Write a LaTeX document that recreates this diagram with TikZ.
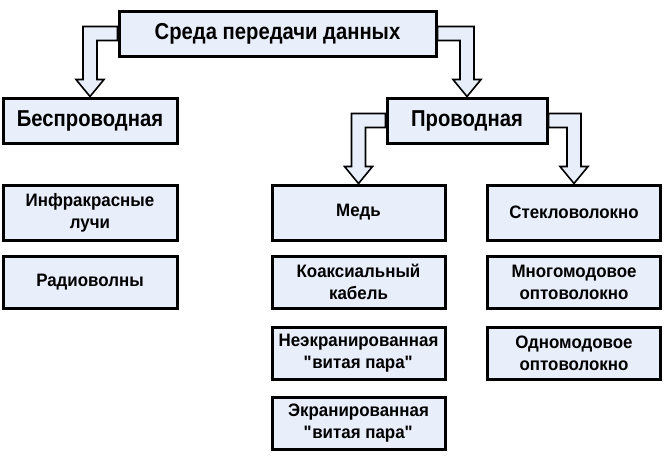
\documentclass[tikz,border=0pt]{standalone}
\usepackage{fontspec}
\setmainfont{Liberation Sans}
\newfontfamily\headfont[FakeStretch=0.88]{Liberation Sans}
\newfontfamily\itemfont[FakeStretch=0.94]{Liberation Sans}
\usetikzlibrary{calc}
\definecolor{boxfill}{RGB}{232,238,250}
\tikzset{
  headbox/.style={draw, line width=3pt, fill=boxfill, inner sep=0pt,
    font=\headfont\bfseries\fontsize{23}{26}\selectfont, minimum height=45pt},
  itembox/.style={draw, line width=3pt, fill=boxfill, inner sep=0pt, align=center,
    font=\itemfont\bfseries\fontsize{18}{22}\selectfont, minimum width=173pt, minimum height=52pt},
  blockarrow/.style={draw, line width=1.6pt, fill=boxfill, line join=miter}
}
% #1 source side, #2 target top, #3 = 1 (right) or -1 (left)
\newcommand{\bentarrow}[3]{%
  \draw[blockarrow] let \p1=(#1), \p2=(#2) in
    (\x1,\y1+7pt) -- ({\x2+#3*7pt},\y1+7pt) -- ({\x2+#3*7pt},\y2+17pt)
    -- ({\x2+#3*14pt},\y2+17pt) -- (\x2,\y2) -- ({\x2-#3*14pt},\y2+17pt)
    -- ({\x2-#3*7pt},\y2+17pt) -- ({\x2-#3*7pt},\y1-7pt) -- (\x1,\y1-7pt) -- cycle;}
\begin{document}
\begin{tikzpicture}[x=1pt, y=-1pt]
		\useasboundingbox (0,0) rectangle (668,458);
		% levels
		\node[headbox, minimum width=317pt] (media) at (277.5,33.5) {Среда передачи данных};
		\node[headbox, minimum width=174pt] (wireless) at (90,120.5) {Беспроводная};
		\node[headbox, minimum width=160pt] (wired) at (467,120.5) {Проводная};
		% wireless
		\node[itembox, minimum width=174pt, minimum height=55pt] (infrared) at (90,212.5) {Инфракрасные\\лучи};
		\node[itembox, minimum width=174pt] (radio) at (90,282.5) {Радиоволны};
		% copper
		\node[itembox, minimum height=55pt] (copper) at (358.5,212.5) {Медь};
		\node[itembox] (coax) at (358.5,282) {Коаксиальный\\кабель};
		\node[itembox] (utp) at (358.5,353.5) {Неэкранированная\\\textquotedbl витая пара\textquotedbl};
		\node[itembox] (stp) at (358.5,423.5) {Экранированная\\\textquotedbl витая пара\textquotedbl};
		% fibre
		\node[itembox, minimum height=55pt] (fibre) at (574,212.5) {Стекловолокно};
		\node[itembox] (multimode) at (574,282.5) {Многомодовое\\оптоволокно};
		\node[itembox] (singlemode) at (574,353.5) {Одномодовое\\оптоволокно};
		% arrows
		\bentarrow{media.west}{wireless.north}{-1}
		\bentarrow{media.east}{wired.north}{1}
		\bentarrow{wired.west}{copper.north}{-1}
		\bentarrow{wired.east}{fibre.north}{1}
\end{tikzpicture}
\end{document}
